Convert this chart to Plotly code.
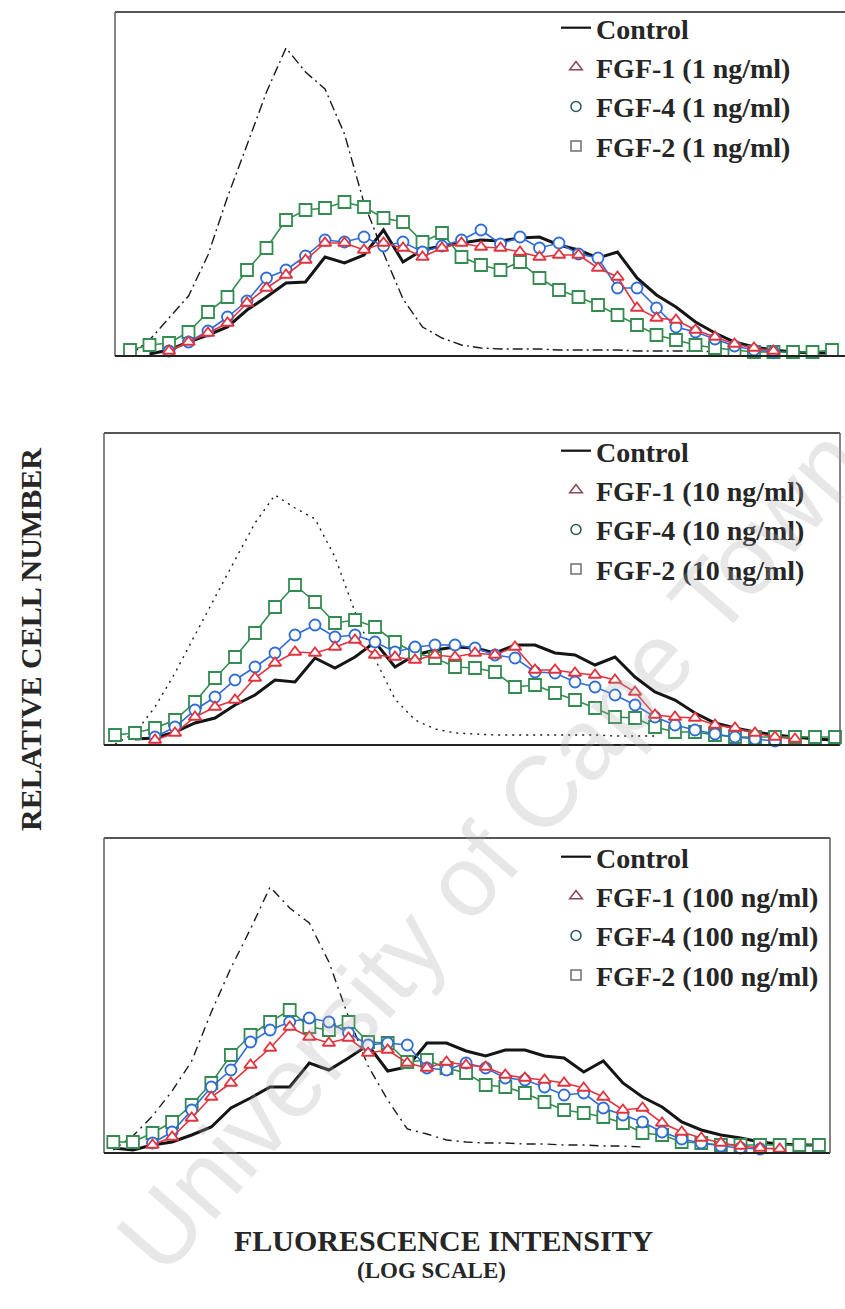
import plotly.graph_objects as go

# ---------------- data (relative cell number per fluorescence bin) ----------------
bins = list(range(37))

# Panel 1 : 1 ng/ml
ref_1   = [1, 16, 38, 60, 101, 159, 211, 264, 308, 284, 267, 222, 153, 103, 57, 29, 18, 11, 8, 7, 7, 7, 6, 6, 6, 6, 5, 5, 5, 5, 4,
           None, None, None, None, None, None]
ctrl_1  = [None, 2, 6, 14, 21, 29, 46, 59, 73, 74, 99, 93, 101, 126, 94, 106, 110, 113, 116, 115, 118, 119, 111, 106, 98, 104,
           78, 61, 49, 34, 23, 14, 9, 6, 4, 3, 3]
fgf1_1  = [None, None, 5, 14, 23, 33, 53, 68, 81, 96, 113, 113, 106, 113, 108, 99, 108, 113, 109, 108, 104, 99, 101, 101, 88, 79,
           48, 38, 36, 26, 19, 12, 8, 5, None, None, None]
fgf4_1  = [None, None, 5, 14, 25, 39, 55, 78, 86, 100, 116, 114, 119, 110, 114, 104, 110, 116, 126, 112, 119, 108, 113, 102, 98, 68,
           68, 48, 29, 24, 17, 10, 6, 4, None, None, None]
fgf2_1  = [6, 11, 13, 24, 44, 59, 86, 108, 136, 146, 148, 154, 149, 138, 134, 114, 123, 99, 91, 86, 94, 78, 66, 59, 51, 41,
           31, 21, 16, 11, 8, 6, 4, 4, 4, 4, 6]

# Panel 2 : 10 ng/ml
ref_2   = [1, 12, 38, 72, 110, 148, 185, 222, 250, 237, 226, 188, 133, 86, 46, 25, 16, 12, 11, 10, 10, 10, 10, 10, 10, 9, 9, 9,
           None, None, None, None, None, None, None, None, None]
ctrl_2  = [None, 6, 7, 13, 22, 27, 40, 50, 65, 63, 87, 77, 88, 103, 78, 90, 95, 98, 97, 92, 100, 100, 92, 90, 80, 88,
           68, 53, 45, 32, 22, 17, 13, 10, 8, 6, 5]
fgf1_2  = [None, None, 5, 12, 28, 38, 45, 67, 82, 93, 92, 98, 105, 90, 88, 85, 90, 88, 92, 90, 98, 75, 75, 72, 70, 65,
           53, 30, 28, 27, 20, 17, 12, 8, 6, None, None]
fgf4_2  = [None, None, 8, 18, 35, 48, 65, 78, 92, 110, 120, 108, 110, 103, 93, 98, 100, 100, 97, 90, 87, 73, 72, 63, 58, 50,
           40, 28, 20, 15, 11, 8, 6, 4, None, None, None]
fgf2_2  = [10, 12, 17, 25, 43, 67, 88, 112, 138, 160, 143, 122, 125, 118, 103, 92, 87, 78, 77, 73, 58, 60, 52, 45, 37, 28,
           27, 18, 13, 13, 10, 8, 8, 8, 8, 8, 8]

# Panel 3 : 100 ng/ml
ref_3   = [3, 17, 37, 62, 92, 141, 185, 224, 266, 245, 230, 191, 136, 87, 53, 24, 19, 13, 11, 10, 10, 9, 9, 8, 8, 7, 7, 6,
           None, None, None, None, None, None, None, None, None]
ctrl_3  = [5, 3, 8, 11, 18, 26, 45, 55, 66, 66, 90, 83, 95, 108, 82, 86, 110, 110, 102, 97, 103, 103, 97, 95, 81, 92,
           70, 56, 46, 31, 23, 18, 15, 11, 9, 8, 8]
fgf1_3  = [None, None, 8, 16, 35, 56, 70, 88, 105, 126, 116, 110, 115, 100, 103, 90, 85, 91, 88, 86, 78, 75, 73, 70, 65, 56,
           43, 45, 30, 21, 15, 10, 7, 5, 4, None, None]
fgf4_3  = [None, None, 10, 21, 43, 66, 83, 111, 123, 131, 135, 131, 120, 108, 110, 108, 85, 83, 90, 85, 75, 73, 66, 58, 60, 45,
           38, 31, 21, 14, 10, 7, 5, 4, None, None, None]
fgf2_3  = [11, 11, 20, 31, 48, 70, 98, 118, 131, 143, 126, 123, 131, 111, 110, 91, 93, 85, 80, 68, 66, 60, 51, 43, 40, 36,
           30, 20, 18, 11, 10, 8, 8, 8, 8, 8, 8]

doses = ["1 ng/ml", "10 ng/ml", "100 ng/ml"]
series = [
    (ref_1, ctrl_1, fgf1_1, fgf4_1, fgf2_1),
    (ref_2, ctrl_2, fgf1_2, fgf4_2, fgf2_2),
    (ref_3, ctrl_3, fgf1_3, fgf4_3, fgf2_3),
]

# ---------------- layout / style ----------------
W, H = 845, 1309
panels = [
    dict(left=115, right=845, top=12, bottom=356, x0=130.0, dx=19.5, dash="10px,4px,2px,4px", right_border=False, leg_top=3),
    dict(left=104, right=840, top=433, bottom=745, x0=115.0, dx=20.0, dash="2px,5px", right_border=True, leg_top=426),
    dict(left=104, right=830, top=838, bottom=1153, x0=113.3, dx=19.6, dash="9px,5px,2px,5px", right_border=True, leg_top=832),
]
RED, BLUE, GREEN = "rgb(226,52,62)", "rgb(48,108,212)", "rgb(52,140,80)"
SERIF = "Liberation Serif"
TXT = "#262626"

fig = go.Figure()
layout = dict(width=W, height=H, margin=dict(l=0, r=0, t=0, b=0),
              paper_bgcolor="white", plot_bgcolor="white", showlegend=True)
shapes = []

for k, (p, (ref, ctrl, f1, f4, f2)) in enumerate(zip(panels, series)):
    n = "" if k == 0 else str(k + 1)
    xa, ya = "x" + n, "y" + n
    leg = "legend" + n
    layout["xaxis" + n] = dict(domain=[p["left"] / W, p["right"] / W],
                               range=[(p["left"] - p["x0"]) / p["dx"], (p["right"] - p["x0"]) / p["dx"]],
                               visible=False, anchor=ya)
    layout["yaxis" + n] = dict(domain=[1 - p["bottom"] / H, 1 - p["top"] / H],
                               range=[0, p["bottom"] - p["top"]], visible=False, anchor=xa)

    common = dict(x=bins, xaxis=xa, yaxis=ya, showlegend=False, cliponaxis=False, hoverinfo="skip")
    fig.add_trace(go.Scatter(y=ref, mode="lines", line=dict(color="#1a1a1a", width=1.4, dash=p["dash"]), **common))
    fig.add_trace(go.Scatter(y=ctrl, mode="lines", line=dict(color="#151515", width=3), **common))
    fig.add_trace(go.Scatter(y=f2, mode="lines+markers", line=dict(color=GREEN, width=1.6),
                             marker=dict(symbol="square", size=12, color="white", line=dict(color=GREEN, width=1.8)),
                             **common))
    fig.add_trace(go.Scatter(y=f4, mode="lines+markers", line=dict(color=BLUE, width=1.6),
                             marker=dict(symbol="circle", size=11, color="white", line=dict(color=BLUE, width=1.8)),
                             **common))
    fig.add_trace(go.Scatter(y=f1, mode="lines+markers", line=dict(color=RED, width=1.6),
                             marker=dict(symbol="triangle-up", size=11, color="white", line=dict(color=RED, width=1.8)),
                             **common))

    # legend-only entries
    lg = dict(x=[None], y=[None], xaxis=xa, yaxis=ya, legend=leg, showlegend=True)
    fig.add_trace(go.Scatter(name="Control", mode="lines", line=dict(color="#111", width=2.2), **lg))
    fig.add_trace(go.Scatter(name="FGF-1 (%s)" % doses[k], mode="markers",
                             marker=dict(symbol="triangle-up-open", size=11, color="#8a4650", line=dict(width=1.5)), **lg))
    fig.add_trace(go.Scatter(name="FGF-4 (%s)" % doses[k], mode="markers",
                             marker=dict(symbol="circle-open", size=10, color="#2a5a55", line=dict(width=1.5)), **lg))
    fig.add_trace(go.Scatter(name="FGF-2 (%s)" % doses[k], mode="markers",
                             marker=dict(symbol="square-open", size=10, color="#6e6e6e", line=dict(width=1.5)), **lg))
    layout[leg] = dict(x=556 / W, y=1 - p["leg_top"] / H, xanchor="left", yanchor="top",
                       bgcolor="rgba(0,0,0,0)", borderwidth=0, tracegroupgap=0, itemwidth=30,
                       font=dict(family=SERIF, size=28, color=TXT, weight="bold"))

    # frame
    fr = dict(xref=xa + " domain", yref=ya + " domain", type="line", layer="above")
    shapes.append(dict(x0=0, x1=1, y0=1, y1=1, line=dict(color="#555", width=2), **fr))
    shapes.append(dict(x0=0, x1=0, y0=0, y1=1, line=dict(color="#666", width=1.6), **fr))
    shapes.append(dict(x0=0, x1=1, y0=0, y1=0, line=dict(color="#222", width=2.2), **fr))
    if p["right_border"]:
        shapes.append(dict(x0=1, x1=1, y0=0, y1=1, line=dict(color="#666", width=1.6), **fr))

layout["shapes"] = shapes
layout["annotations"] = [
    dict(text="University of Cape Town", xref="paper", yref="paper", x=490 / W, y=1 - 850 / H,
         xanchor="center", yanchor="middle",
         showarrow=False, textangle=-49, font=dict(family="Liberation Sans", size=100, color="rgba(170,170,170,0.28)")),
    dict(text="RELATIVE CELL NUMBER", xref="paper", yref="paper", x=30 / W, y=1 - 640 / H,
         xanchor="center", yanchor="middle",
         showarrow=False, textangle=-90, font=dict(family=SERIF, size=30, color=TXT, weight="bold")),
    dict(text="FLUORESCENCE INTENSITY", xref="paper", yref="paper", x=444 / W, y=1 - 1240 / H,
         xanchor="center", yanchor="middle",
         showarrow=False, font=dict(family=SERIF, size=30, color=TXT, weight="bold")),
    dict(text="(LOG SCALE)", xref="paper", yref="paper", x=431 / W, y=1 - 1270 / H,
         xanchor="center", yanchor="middle",
         showarrow=False, font=dict(family=SERIF, size=23, color=TXT, weight="bold")),
]
fig.update_layout(**layout)
fig.write_html("out.html")
